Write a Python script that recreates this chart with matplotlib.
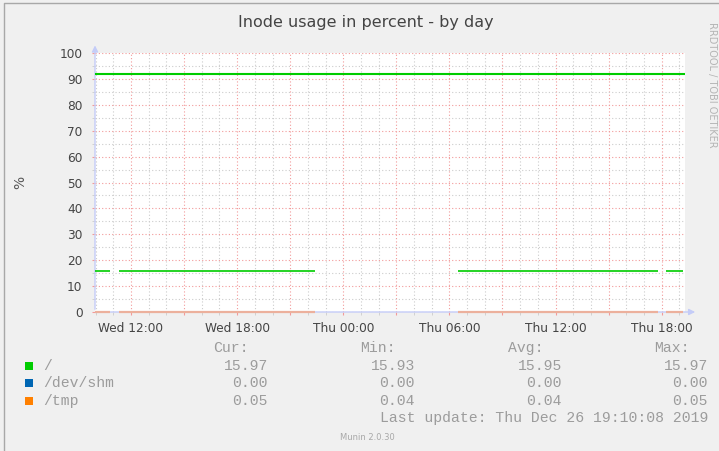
"""Munin style inode usage graph (by day)."""
from datetime import datetime

import matplotlib
matplotlib.use('Agg')
import matplotlib.pyplot as plt
import matplotlib.dates as mdates
from matplotlib.lines import Line2D
from matplotlib.patches import Rectangle
from matplotlib.ticker import FuncFormatter, MultipleLocator


W, H = 719, 451

title = 'Inode usage in percent - by day'
x_start = '2019-12-25 09:58'
x_end = '2019-12-26 19:19'

# segments where data exists (gaps in between)
seg_start = ['2019-12-25 09:58', '2019-12-25 11:19', '2019-12-26 06:29', '2019-12-26 18:14']
seg_end = ['2019-12-25 10:49', '2019-12-25 22:24', '2019-12-26 17:46', '2019-12-26 19:12']
root_values = [15.95, 15.95, 15.95, 15.97]
shm_values = [0.0, 0.0, 0.0, 0.0]
tmp_values = [0.05, 0.04, 0.04, 0.05]

# the upper green line runs over the whole range
upper_level = 92.0

series_names = ['/', '/dev/shm', '/tmp']
series_colors = ['#00cc00', '#0066b3', '#ff8000']
col_headers = ['Cur:', 'Min:', 'Avg:', 'Max:']
stats = [
    ['15.97', '15.93', '15.95', '15.97'],
    ['0.00', '0.00', '0.00', '0.00'],
    ['0.05', '0.04', '0.04', '0.05'],
]
last_update = 'Last update: Thu Dec 26 19:10:08 2019'


def to_dt(s):
    return datetime.strptime(s, '%Y-%m-%d %H:%M')


def fx(x):
    return x / W


def fy(y):
    return 1 - y / H


def fmt_time(x, pos):
    d = mdates.num2date(x)
    if d.hour % 6 == 0 and d.minute == 0:
        return d.strftime('%a %H:%M')
    return ''


def main():
    fig = plt.figure(figsize=(W / 100, H / 100), dpi=100, facecolor='#f0f0f0')
    ax = fig.add_axes([fx(95), fy(312), fx(685) - fx(95), fy(53) - fy(312)])
    ax.set_facecolor('white')

    ax.set_xlim(to_dt(x_start), to_dt(x_end))
    ax.set_ylim(0, 100)

    ax.yaxis.set_major_locator(MultipleLocator(10))
    ax.yaxis.set_minor_locator(MultipleLocator(5))
    ax.xaxis.set_major_locator(mdates.HourLocator(byhour=range(0, 24, 3)))
    ax.xaxis.set_minor_locator(mdates.HourLocator())
    ax.xaxis.set_major_formatter(FuncFormatter(fmt_time))

    ax.grid(which='minor', color='#cccccc', linestyle=(0, (1, 2)), linewidth=0.8)
    ax.grid(which='major', color='#f29a9a', linestyle=(0, (1, 2)), linewidth=0.8)
    ax.set_axisbelow(True)

    ax.tick_params(which='major', length=2, color='#f29a9a', labelsize=8.7,
                   labelcolor='#444444')
    ax.tick_params(which='minor', length=2, color='#cccccc')
    ax.tick_params(axis='y', pad=7)
    ax.tick_params(axis='x', pad=5)
    for sp in ax.spines.values():
        sp.set_visible(False)

    # axis lines with arrow heads
    arrow = dict(arrowstyle='-|>', color='#c4ccf8', lw=1.0, mutation_scale=9)
    ax.annotate('', xy=(0, 1.04), xytext=(0, 0), xycoords='axes fraction',
                arrowprops=arrow, annotation_clip=False, zorder=2)
    ax.annotate('', xy=(1.022, 0), xytext=(0, 0), xycoords='axes fraction',
                arrowprops=arrow, annotation_clip=False, zorder=2)

    # data
    ax.plot([to_dt(x_start), to_dt(x_end)], [upper_level, upper_level],
            color=series_colors[0], lw=1.5, solid_capstyle='butt', zorder=3)
    for s, e, r, d, t in zip(seg_start, seg_end, root_values, shm_values, tmp_values):
        xs = [to_dt(s), to_dt(e)]
        ax.plot(xs, [r, r], color=series_colors[0], lw=1.2, solid_capstyle='butt', zorder=3)
        ax.plot(xs, [d, d], color=series_colors[1], lw=1.2, solid_capstyle='butt',
                zorder=3, clip_on=False)
        ax.plot(xs, [t, t], color='#ecb09c', lw=1.6, solid_capstyle='butt',
                zorder=4, clip_on=False)

    # title and labels
    fig.text(fx(366), fy(22), title, ha='center', va='center', fontsize=11.5,
             color='#444444')
    fig.text(fx(20), fy(182), '%', ha='center', va='center', rotation=90,
             fontsize=10, color='#555555')
    fig.text(fx(712), fy(85), 'RRDTOOL / TOBI OETIKER', ha='center', va='center',
             rotation=270, fontsize=7, color='#b4b4b4')

    # legend table
    mono = dict(family='Liberation Mono', fontsize=10.6, color='#9c9c9c', va='center')
    header_right = [249, 396, 543, 690]
    value_right = [268, 415, 562, 708]
    for hx, txt in zip(header_right, col_headers):
        fig.text(fx(hx), fy(348), txt, ha='right', **mono)
    row_y = [366, 383, 401]
    for y, name, color, vals in zip(row_y, series_names, series_colors, stats):
        fig.add_artist(Rectangle((fx(25), fy(y + 4)), 8 / W, 8 / H, facecolor=color,
                                 edgecolor='none', transform=fig.transFigure))
        fig.text(fx(43), fy(y), name, ha='left', **mono)
        for vx, v in zip(value_right, vals):
            fig.text(fx(vx), fy(y), v, ha='right', **mono)
    fig.text(fx(708), fy(418), last_update, ha='right', **mono)
    fig.text(fx(367), fy(437), 'Munin 2.0.30', ha='center', va='center',
             fontsize=6, color='#a8a8a8')

    # outer border
    fig.add_artist(Line2D([fx(4), fx(4), 1], [0, fy(3), fy(3)], color='#a8a8a8',
                          lw=1.0, transform=fig.transFigure))

    fig.savefig('out.png', dpi=100, facecolor=fig.get_facecolor())
    plt.close(fig)


if __name__ == '__main__':
    main()
